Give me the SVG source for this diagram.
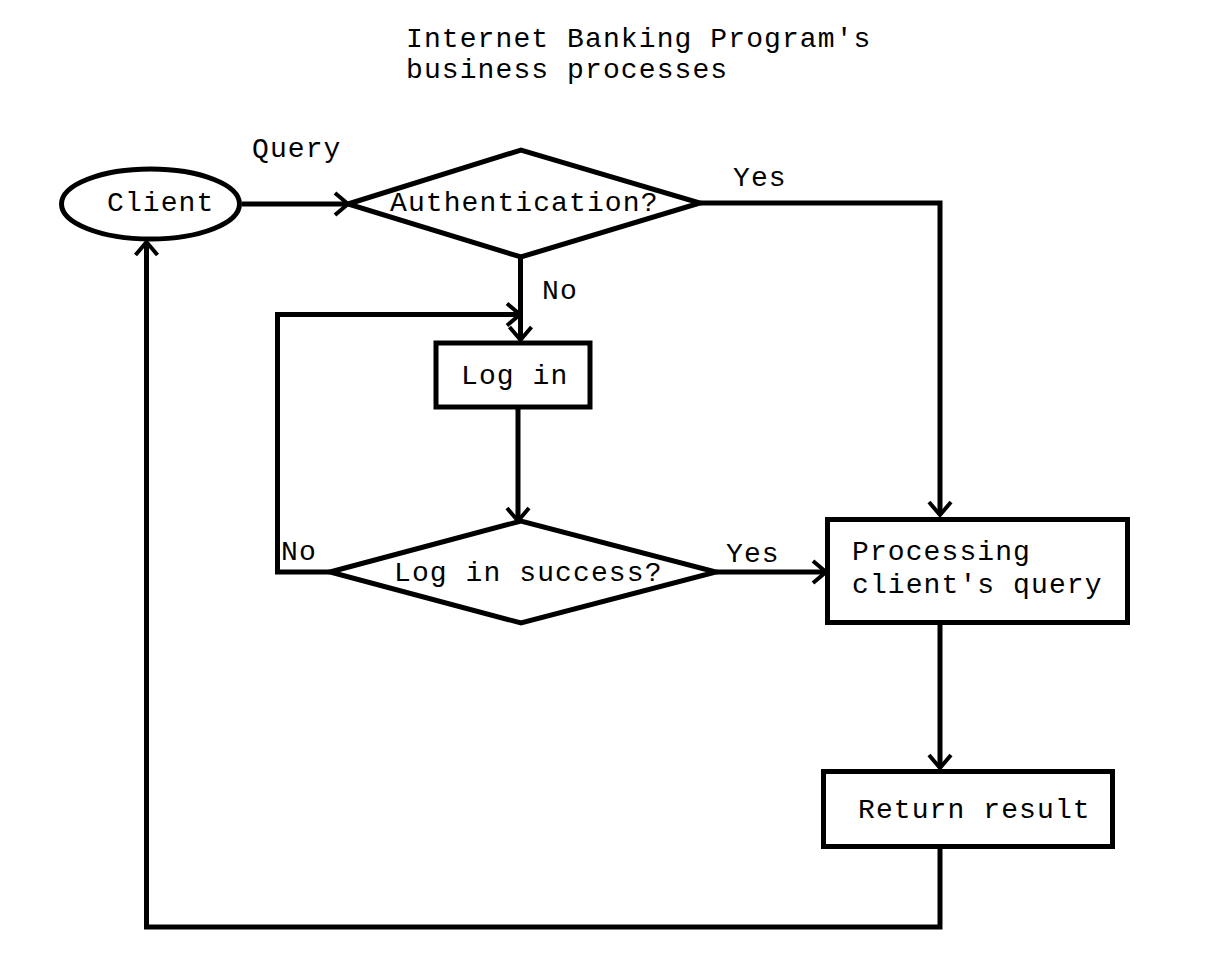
<svg xmlns="http://www.w3.org/2000/svg" width="1208" height="972" viewBox="0 0 1208 972">
<style>
text{font-family:"Liberation Mono","DejaVu Sans Mono",monospace;font-size:28px;letter-spacing:1.1px;fill:#000}
.s{fill:#fff;stroke:#000;stroke-width:5}
.c{fill:none;stroke:#000;stroke-width:5;stroke-linejoin:miter}
</style>
<defs>
<marker id="a" markerUnits="userSpaceOnUse" viewBox="-16 -14 20 28" markerWidth="20" markerHeight="28" refX="0" refY="0" orient="auto" overflow="visible">
<path d="M-13,-11 L0,0 L-13,11" fill="none" stroke="#000" stroke-width="4"/>
</marker>
</defs>
<rect width="1208" height="972" fill="#fff"/>
<g id="title">
<text x="406" y="47">Internet Banking Program's</text>
<text x="406" y="78">business processes</text>
</g>
<g id="connectors">
<path class="c" d="M242,204 H348" marker-end="url(#a)"/>
<path class="c" d="M700,203 H940 V515" marker-end="url(#a)"/>
<path class="c" d="M520.5,257 V340" marker-end="url(#a)"/>
<path class="c" d="M518,409 V521" marker-end="url(#a)"/>
<path class="c" d="M330,572 H277.5 V314.5 H520" marker-end="url(#a)"/>
<path class="c" d="M716,572 H826" marker-end="url(#a)"/>
<path class="c" d="M940,625 V768" marker-end="url(#a)"/>
<path class="c" d="M940,849 V927 H146.5 V242" marker-end="url(#a)"/>
<text x="252" y="157">Query</text>
<text x="733" y="186">Yes</text>
<text x="542" y="299">No</text>
<text x="281" y="560">No</text>
<text x="726" y="562">Yes</text>
</g>
<g id="client">
<ellipse class="s" cx="150.5" cy="204" rx="89" ry="35"/>
<text x="107" y="211">Client</text>
</g>
<g id="auth">
<polygon class="s" points="348,204 521,150 700,203 521,257"/>
<text x="390" y="211">Authentication?</text>
</g>
<g id="login">
<rect class="s" x="436" y="343" width="154" height="64"/>
<text x="461" y="384">Log in</text>
</g>
<g id="success">
<polygon class="s" points="330,572 521,521 716,572 521,623"/>
<text x="394" y="581">Log in success?</text>
</g>
<g id="processing">
<rect class="s" x="827.5" y="519.5" width="300" height="103"/>
<text x="852" y="560">Processing</text>
<text x="852" y="593">client's query</text>
</g>
<g id="return">
<rect class="s" x="823.5" y="771.5" width="289" height="75"/>
<text x="858" y="818">Return result</text>
</g>
</svg>
